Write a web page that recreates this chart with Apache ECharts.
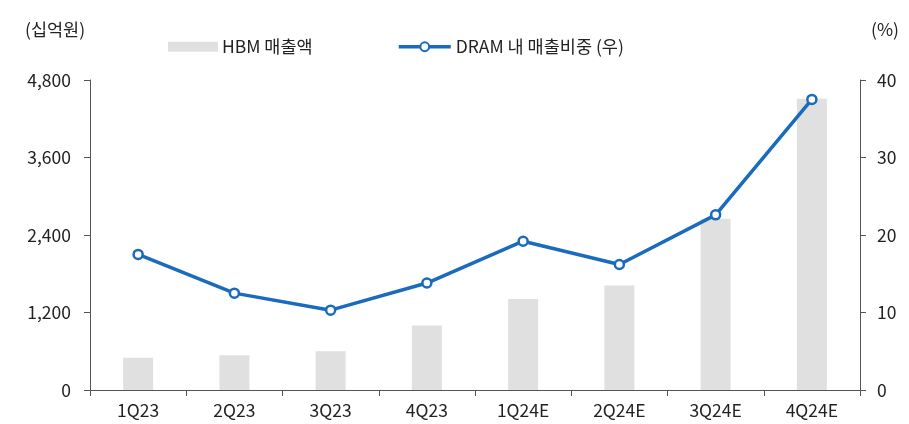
<!DOCTYPE html>
<html><head><meta charset="utf-8">
<script src="https://cdn.jsdelivr.net/npm/echarts@6/dist/echarts.min.js"></script>
<style>html,body{margin:0;padding:0;background:#fff}#c{width:909px;height:424px}</style>
</head><body><div id="c"></div>
<script>
const categories = ['1Q23','2Q23','3Q23','4Q23','1Q24E','2Q24E','3Q24E','4Q24E'];
const hbmSales = [500, 540, 600, 1000, 1410, 1620, 2650, 4510];
const dramShare = [17.5, 12.5, 10.3, 13.8, 19.2, 16.2, 22.6, 37.5];
const leftTicks = {min: 0, max: 4800, interval: 1200};
const rightTicks = {min: 0, max: 40, interval: 10};

const font = '"Noto Sans CJK KR", "Noto Sans", sans-serif';
const fs = 17.5;
const txt = '#222';
const axisCol = '#555';
const blue = '#1a6bbd';
const chart = echarts.init(document.getElementById('c'));
chart.setOption({
  animation: false,
  textStyle: {fontFamily: font},
  grid: {left: 90, right: 49, top: 80, bottom: 34},
  legend: [
    {data: [{name: 'HBM 매출액', icon: 'rect'}], left: 163, top: 33, itemWidth: 50, itemHeight: 10, itemGap: 6,
     textStyle: {fontSize: fs, color: txt, fontFamily: font, padding: [0, 0, 0, -1]}},
    {data: ['DRAM 내 매출비중 (우)'], left: 392, top: 33, itemWidth: 52, itemHeight: 11,
     lineStyle: {width: 3.5, color: blue},
     textStyle: {fontSize: fs, color: txt, fontFamily: font}}
  ],
  graphic: [
    {type: 'text', left: 25, top: 21, style: {text: '(십억원)', fontSize: fs, fill: txt, fontFamily: font}},
    {type: 'text', left: 871, top: 21, style: {text: '(%)', fontSize: fs, fill: txt, fontFamily: font}}
  ],
  xAxis: {
    type: 'category', data: categories, boundaryGap: true,
    axisLine: {lineStyle: {color: axisCol, width: 1}},
    axisTick: {show: true, inside: false, length: 6, lineStyle: {color: axisCol}},
    axisLabel: {fontSize: fs, color: txt, margin: 12, fontFamily: font}
  },
  yAxis: [
    {type: 'value', min: leftTicks.min, max: leftTicks.max, interval: leftTicks.interval,
     axisLine: {show: true, lineStyle: {color: axisCol}},
     axisTick: {show: true, length: 6, lineStyle: {color: axisCol}},
     splitLine: {show: false},
     axisLabel: {fontSize: fs, color: txt, margin: 19, fontFamily: font,
       formatter: v => v.toLocaleString('en-US')}},
    {type: 'value', min: rightTicks.min, max: rightTicks.max, interval: rightTicks.interval,
     position: 'right',
     axisLine: {show: true, lineStyle: {color: axisCol}},
     axisTick: {show: true, length: 6, lineStyle: {color: axisCol}},
     splitLine: {show: false},
     axisLabel: {fontSize: fs, color: txt, margin: 17, fontFamily: font}}
  ],
  series: [
    {name: 'HBM 매출액', type: 'bar', data: hbmSales, barWidth: 30,
     itemStyle: {color: '#e0e0e0'}},
    {name: 'DRAM 내 매출비중 (우)', type: 'line', yAxisIndex: 1, data: dramShare,
     symbol: 'circle', symbolSize: 9, showSymbol: true,
     lineStyle: {color: blue, width: 3.5},
     itemStyle: {color: '#ffffff', borderColor: blue, borderWidth: 2.5}}
  ]
});
</script></body></html>
